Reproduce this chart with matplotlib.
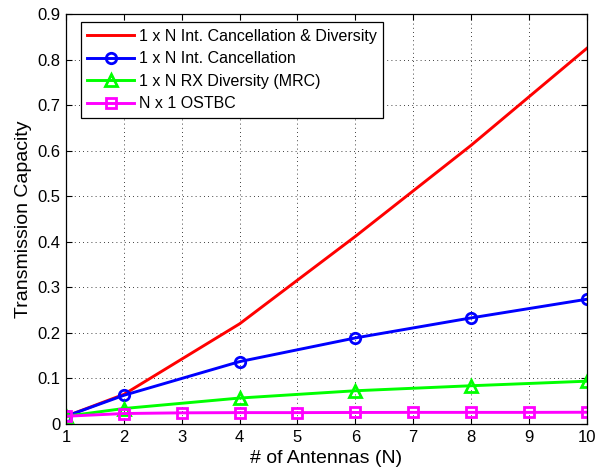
import matplotlib
matplotlib.use("Agg")
import matplotlib.pyplot as plt

plt.rcParams['font.family'] = ['Liberation Sans', 'DejaVu Sans']

x_main = [1, 2, 4, 6, 8, 10]
ic_div = [0.017, 0.065, 0.220, 0.412, 0.612, 0.825]
ic = [0.017, 0.063, 0.137, 0.189, 0.233, 0.274]
mrc = [0.017, 0.034, 0.057, 0.073, 0.084, 0.094]
x_ostbc = [1, 2, 3, 4, 5, 6, 7, 8, 9, 10]
ostbc = [0.017, 0.023, 0.0245, 0.025, 0.025, 0.0253, 0.0255, 0.0255, 0.0255, 0.0258]

labels = ["1 x N Int. Cancellation & Diversity",
          "1 x N Int. Cancellation",
          "1 x N RX Diversity (MRC)",
          "N x 1 OSTBC"]

fig = plt.figure(figsize=(6.0, 4.74), dpi=100)
ax = fig.add_axes([0.11, 0.1055, 0.868, 0.8645])

lw = 2.1
ax.plot(x_main, ic_div, color='#ff0000', lw=lw, label=labels[0])
ax.plot(x_main, ic, color='#0000ff', lw=lw, marker='o', ms=7.5, mew=2,
        mfc='none', label=labels[1])
ax.plot(x_main, mrc, color='#00ff00', lw=lw, marker='^', ms=9, mew=2,
        mfc='none', label=labels[2])
ax.plot(x_ostbc, ostbc, color='#ff00ff', lw=lw, marker='s', ms=6.5, mew=2,
        mfc='none', label=labels[3])

ax.set_xlim(1, 10)
ax.set_ylim(0, 0.9)
ax.set_xticks(range(1, 11))
ax.set_yticks([0, 0.1, 0.2, 0.3, 0.4, 0.5, 0.6, 0.7, 0.8, 0.9])
ax.set_yticklabels(['0', '0.1', '0.2', '0.3', '0.4', '0.5', '0.6', '0.7', '0.8', '0.9'])
ax.tick_params(direction='in', top=True, right=True, labelsize=12, length=4.5,
               width=0.8, pad=4)
ax.grid(True, color='black', linestyle=(0, (1, 4)), linewidth=0.6)
for s in ax.spines.values():
    s.set_linewidth(0.9)

ax.set_xlabel('# of Antennas (N)', fontsize=14, labelpad=4)
ax.set_ylabel('Transmission Capacity', fontsize=14, labelpad=4)

leg = ax.legend(loc='upper left', bbox_to_anchor=(0.029, 0.98), borderaxespad=0,
                fontsize=11.5, fancybox=False, framealpha=1, edgecolor='black',
                handlelength=2.9, handletextpad=0.3, labelspacing=0.47,
                borderpad=0.4)
leg.get_frame().set_linewidth(0.9)

fig.savefig('out.png', dpi=100)
